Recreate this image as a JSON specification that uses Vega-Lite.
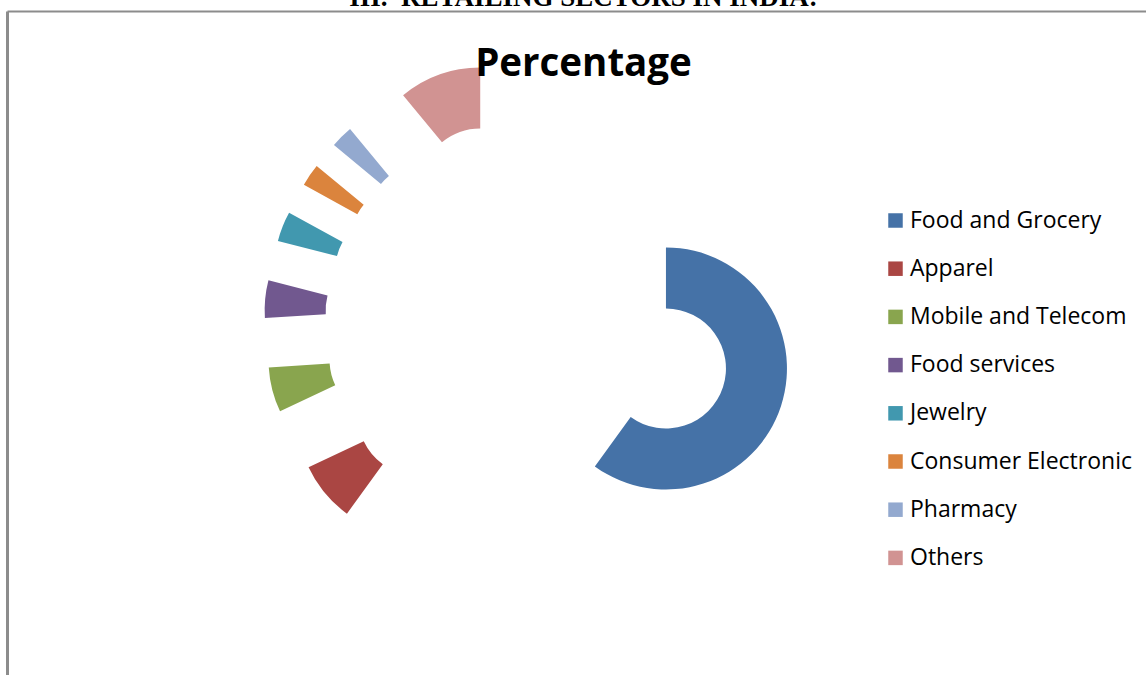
{
  "$schema": "https://vega.github.io/schema/vega-lite/v6.json",
  "width": 1139,
  "height": 664,
  "autosize": {"type": "none"},
  "padding": {"left": 7, "top": 11, "right": 0, "bottom": 0},
  "background": "white",
  "title": {
    "text": "III.\u00a0\u00a0RETAILING SECTORS IN INDIA:",
    "subtitle": "Percentage",
    "anchor": "middle",
    "orient": "top",
    "frame": "group",
    "offset": -73,
    "dx": 7,
    "font": "Liberation Serif",
    "fontSize": 27,
    "fontWeight": "bold",
    "color": "black",
    "subtitleFont": "Open Sans",
    "subtitleFontSize": 38.5,
    "subtitleFontWeight": "bold",
    "subtitleColor": "black",
    "subtitlePadding": 34
  },
  "data": {
    "values": [
      {"Sector": "Food and Grocery", "Percentage": 60},
      {"Sector": "Apparel", "Percentage": 8},
      {"Sector": "Mobile and Telecom", "Percentage": 6},
      {"Sector": "Food services", "Percentage": 5},
      {"Sector": "Jewelry", "Percentage": 4},
      {"Sector": "Consumer Electronic", "Percentage": 3},
      {"Sector": "Pharmacy", "Percentage": 3},
      {"Sector": "Others", "Percentage": 11}
    ]
  },
  "transform": [
    {"stack": "Percentage", "groupby": [], "as": ["startPct", "endPct"]},
    {"calculate": "PI * (datum.startPct + datum.endPct) / 100", "as": "midAngle"},
    {"calculate": "sin(datum.midAngle)", "as": "explodeX"},
    {"calculate": "cos(datum.midAngle)", "as": "explodeY"}
  ],
  "mark": {"type": "arc", "radius": 121, "radius2": 60},
  "encoding": {
    "x": {
      "field": "explodeX",
      "type": "quantitative",
      "scale": {"domain": [-3.625, 4.2847], "nice": false, "zero": false},
      "axis": {"orient": "top", "domain": true, "domainColor": "#8c8c8c", "domainWidth": 2, "ticks": false, "labels": false, "grid": false, "title": null}
    },
    "y": {
      "field": "explodeY",
      "type": "quantitative",
      "scale": {"domain": [-2.4375, 2.1736], "nice": false, "zero": false},
      "axis": {"orient": "left", "domain": true, "domainColor": "#8c8c8c", "domainWidth": 3, "ticks": false, "labels": false, "grid": false, "title": null}
    },
    "theta": {
      "field": "startPct",
      "type": "quantitative",
      "scale": {"domain": [0, 100], "range": [0, 6.283185307179586]}
    },
    "theta2": {"field": "endPct"},
    "color": {
      "field": "Sector",
      "type": "nominal",
      "sort": null,
      "scale": {
        "domain": ["Food and Grocery", "Apparel", "Mobile and Telecom", "Food services", "Jewelry", "Consumer Electronic", "Pharmacy", "Others"],
        "range": ["#4572A7", "#AA4643", "#89A54E", "#71588F", "#4198AF", "#DB843D", "#93A9CF", "#D19392"]
      },
      "legend": {
        "title": null,
        "orient": "none",
        "direction": "vertical",
        "legendX": 877,
        "legendY": 198,
        "padding": 0,
        "symbolType": "square",
        "symbolSize": 210,
        "symbolStrokeWidth": 0,
        "symbolOpacity": 1,
        "labelFont": "Open Sans",
        "labelFontSize": 23,
        "labelColor": "black",
        "labelOffset": 3,
        "labelLimit": 400,
        "rowPadding": 24.2
      }
    }
  },
  "config": {"view": {"stroke": null}}
}
